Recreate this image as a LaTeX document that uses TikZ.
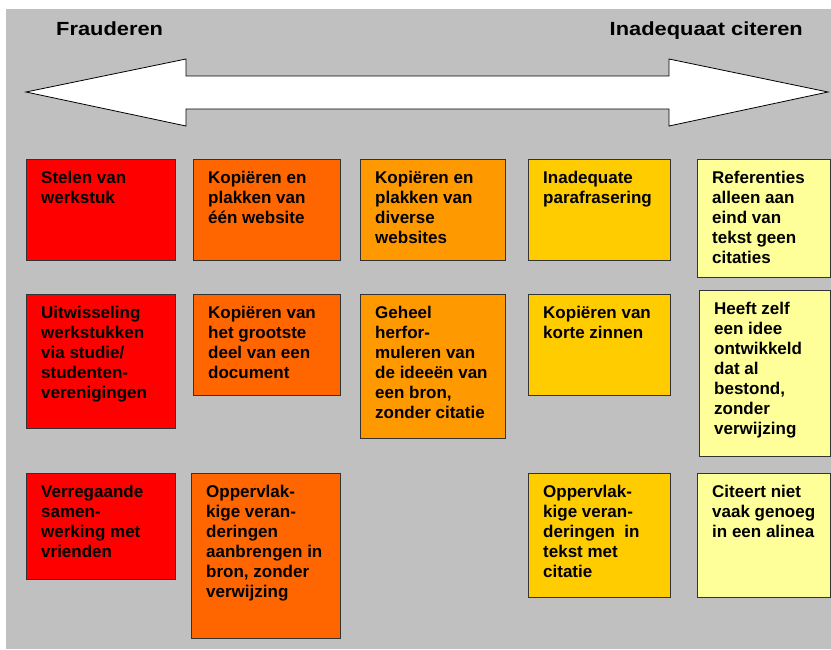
\documentclass[tikz,border=0pt]{standalone}
\usepackage{fontspec}
\setmainfont{Liberation Sans}
\definecolor{grijs}{HTML}{C0C0C0}
\definecolor{rood}{HTML}{FF0000}
\definecolor{oranje}{HTML}{FF6600}
\definecolor{lichtoranje}{HTML}{FF9900}
\definecolor{goud}{HTML}{FFCC00}
\definecolor{lichtgeel}{HTML}{FFFF99}
\begin{document}
\begin{tikzpicture}[x=1pt,y=-1pt,
  kaart/.style={draw=black!80,line width=0.9pt,anchor=north west,inner sep=0pt},
  tekst/.style={anchor=north west,align=left,inner sep=0pt,xshift=15pt,yshift=-12pt,
    font=\bfseries\fontsize{17}{20}\selectfont,execute at begin node={\rule{0pt}{13pt}}},
  kop/.style={inner sep=0pt,font=\bfseries\fontsize{19}{22}\selectfont}]
\useasboundingbox (0,0) rectangle (831,649);
% Background
\fill[grijs] (6,9) rectangle (831,649);

% Titles
\node[kop,anchor=base west] (links) at (56,35) {\scalebox{1.15}[1]{Frauderen}};
\node[kop,anchor=base east] (rechts) at (803,35) {\scalebox{1.15}[1]{Inadequaat citeren}};

% Double arrow
\draw[fill=white,line width=0.8pt,line join=miter]
  (26,92) -- (186,59) -- (186,76) -- (669,76) -- (669,59) -- (828,92)
  -- (669,126) -- (669,109) -- (186,109) -- (186,126) -- cycle;

% Row 1
\node[kaart,fill=rood,minimum width=149pt,minimum height=101pt] (k11) at (26,159) {};
\node[tekst] (t11) at (k11.north west) {Stelen van\\werkstuk};
\node[kaart,fill=oranje,minimum width=147pt,minimum height=101pt] (k12) at (193,159) {};
\node[tekst] (t12) at (k12.north west) {Kopiëren en\\plakken van\\één website};
\node[kaart,fill=lichtoranje,minimum width=145pt,minimum height=101pt] (k13) at (360,159) {};
\node[tekst] (t13) at (k13.north west) {Kopiëren en\\plakken van\\diverse\\websites};
\node[kaart,fill=goud,minimum width=142pt,minimum height=101pt] (k14) at (528,159) {};
\node[tekst] (t14) at (k14.north west) {Inadequate\\parafrasering};
\node[kaart,fill=lichtgeel,minimum width=133pt,minimum height=118pt] (k15) at (697,159) {};
\node[tekst] (t15) at (k15.north west) {Referenties\\alleen aan\\eind van\\tekst geen\\citaties};

% Row 2
\node[kaart,fill=rood,minimum width=149pt,minimum height=134pt] (k21) at (26,294) {};
\node[tekst] (t21) at (k21.north west) {Uitwisseling\\werkstukken\\via studie/\\studenten-\\verenigingen};
\node[kaart,fill=oranje,minimum width=147pt,minimum height=101pt] (k22) at (193,294) {};
\node[tekst] (t22) at (k22.north west) {Kopiëren van\\het grootste\\deel van een\\document};
\node[kaart,fill=lichtoranje,minimum width=145pt,minimum height=144pt] (k23) at (360,294) {};
\node[tekst] (t23) at (k23.north west) {Geheel\\herfor-\\muleren van\\de ideeën van\\een bron,\\zonder citatie};
\node[kaart,fill=goud,minimum width=142pt,minimum height=101pt] (k24) at (528,294) {};
\node[tekst] (t24) at (k24.north west) {Kopiëren van\\korte zinnen};
\node[kaart,fill=lichtgeel,minimum width=131pt,minimum height=166pt] (k25) at (699,290) {};
\node[tekst] (t25) at (k25.north west) {Heeft zelf\\een idee\\ontwikkeld\\dat al\\bestond,\\zonder\\verwijzing};

% Row 3
\node[kaart,fill=rood,minimum width=149pt,minimum height=106pt] (k31) at (26,473) {};
\node[tekst] (t31) at (k31.north west) {Verregaande\\samen-\\werking met\\vrienden};
\node[kaart,fill=oranje,minimum width=149pt,minimum height=165pt] (k32) at (191,473) {};
\node[tekst] (t32) at (k32.north west) {Oppervlak-\\kige veran-\\deringen\\aanbrengen in\\bron, zonder\\verwijzing};
\node[kaart,fill=goud,minimum width=142pt,minimum height=124pt] (k34) at (528,473) {};
\node[tekst] (t34) at (k34.north west) {Oppervlak-\\kige veran-\\deringen\ \ in\\tekst met\\citatie};
\node[kaart,fill=lichtgeel,minimum width=133pt,minimum height=124pt] (k35) at (697,473) {};
\node[tekst] (t35) at (k35.north west) {Citeert niet\\vaak genoeg\\in een alinea};
\end{tikzpicture}
\end{document}
